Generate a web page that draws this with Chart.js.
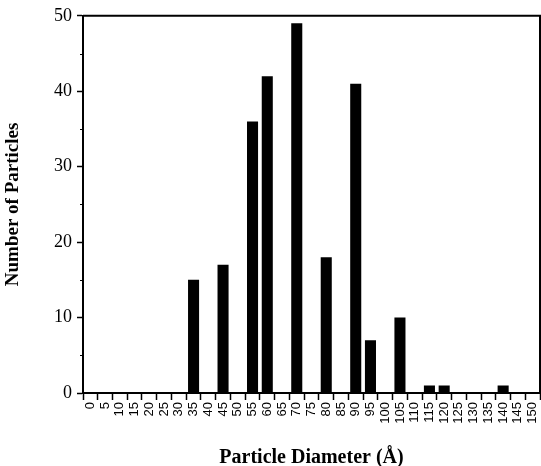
<!DOCTYPE html>
<html>
<head>
<meta charset="utf-8">
<script src="https://cdn.jsdelivr.net/npm/chart.js@4.4.1/dist/chart.umd.min.js"></script>
<style>
  html, body { margin: 0; padding: 0; background: #fff; }
  #wrap { width: 541px; height: 466px; }
</style>
</head>
<body>
<div id="wrap"><canvas id="chart"></canvas></div>
<script>
// particle diameter bins (Å)
const diameters = ["0", "5", "10", "15", "20", "25", "30", "35", "40", "45", "50",
  "55", "60", "65", "70", "75", "80", "85", "90", "95", "100",
  "105", "110", "115", "120", "125", "130", "135", "140", "145", "150"];

// number of particles in each bin
const counts = [0, 0, 0, 0, 0, 0, 0, 15, 0, 17, 0,
  36, 42, 0, 49, 0, 18, 0, 41, 7, 0,
  10, 0, 1, 1, 0, 0, 0, 1, 0, 0];

const yMin = 0;
const yMax = 50;
const yStep = 5;

// short ticks at the odd multiples of 5 and the frame round the plot
const frameAndMinorTicks = {
  id: "frameAndMinorTicks",
  afterDraw(chart) {
    const { ctx, chartArea, scales } = chart;
    ctx.save();
    ctx.strokeStyle = "#000";
    ctx.lineWidth = 2;
    ctx.beginPath();
    ctx.moveTo(chartArea.left, chartArea.top);
    ctx.lineTo(chartArea.right, chartArea.top);
    ctx.lineTo(chartArea.right, chartArea.bottom);
    ctx.stroke();

    ctx.lineWidth = 1;
    scales.y.ticks.forEach((t) => {
      if (t.value % 10 !== 0) {
        const y = Math.round(scales.y.getPixelForValue(t.value)) + 0.5;
        ctx.beginPath();
        ctx.moveTo(chartArea.left - 3, y);
        ctx.lineTo(chartArea.left, y);
        ctx.stroke();
      }
    });
    ctx.restore();
  },
};

new Chart(document.getElementById("chart"), {
  type: "bar",
  data: {
    labels: diameters,
    datasets: [
      {
        label: "Number of Particles",
        data: counts,
        backgroundColor: "#000",
        borderWidth: 0,
        categoryPercentage: 1,
        barPercentage: 0.75,
      },
    ],
  },
  options: {
    responsive: true,
    maintainAspectRatio: false,
    animation: false,
    layout: { padding: { top: 15, right: 1, left: 0, bottom: 0 } },
    plugins: {
      legend: { display: false },
      tooltip: { enabled: false },
    },
    scales: {
      x: {
        offset: true,
        grid: {
          display: true,
          drawOnChartArea: false,
          tickLength: 7,
          tickColor: "#000",
          tickWidth: 1.5,
        },
        border: { display: true, color: "#000", width: 2 },
        ticks: {
          autoSkip: false,
          maxRotation: 90,
          minRotation: 90,
          padding: 2,
          color: "#000",
          font: { family: "'Liberation Sans', Arial, sans-serif", size: 13 },
        },
        title: {
          display: true,
          text: "Particle Diameter (Å)",
          color: "#000",
          padding: { top: 0, bottom: -4 },
          font: { family: "'Liberation Serif', 'Times New Roman', serif", size: 20, weight: "bold" },
        },
        afterFit(scale) {
          scale.height = 73;
          scale.paddingLeft = 0;
          scale.paddingRight = 0;
        },
      },
      y: {
        min: yMin,
        max: yMax,
        grid: {
          display: true,
          drawOnChartArea: false,
          tickLength: 6,
          tickWidth: 1.5,
          tickColor: (c) => (c.tick && c.tick.value % 10 === 0 ? "#000" : "rgba(0,0,0,0)"),
        },
        border: { display: true, color: "#000", width: 2 },
        ticks: {
          stepSize: yStep,
          padding: 5,
          color: "#000",
          font: { family: "'Liberation Serif', 'Times New Roman', serif", size: 18 },
          callback: (v) => (v % 10 === 0 ? v : ""),
        },
        title: {
          display: true,
          text: "Number of Particles",
          color: "#000",
          padding: { top: 2, bottom: 0 },
          font: { family: "'Liberation Serif', 'Times New Roman', serif", size: 19, weight: "bold" },
        },
        afterFit(scale) {
          scale.width = 83;
        },
      },
    },
  },
  plugins: [frameAndMinorTicks],
});
</script>
</body>
</html>
